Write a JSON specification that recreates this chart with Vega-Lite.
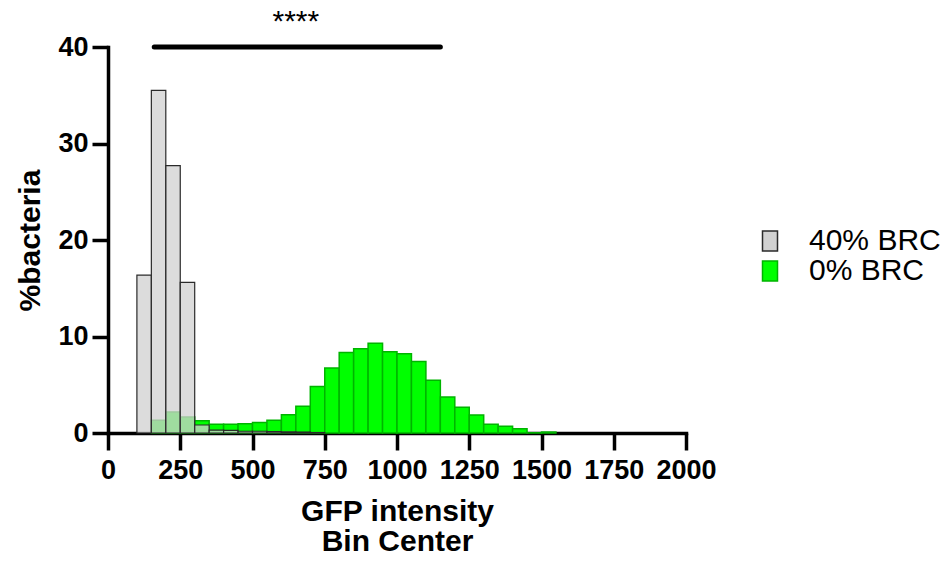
{
  "$schema": "https://vega.github.io/schema/vega-lite/v6.json",
  "width": 578,
  "height": 386,
  "autosize": {"type": "none"},
  "padding": {"left": 108, "top": 47, "right": 265, "bottom": 137},
  "config": {
    "font": "Liberation Sans",
    "view": {"stroke": null},
    "axis": {"grid": false, "domainColor": "black", "tickColor": "black", "labelColor": "black", "titleColor": "black", "domainWidth": 3.5, "tickWidth": 3.5, "labelFontWeight": "bold", "titleFontWeight": "bold", "labelFont": "Liberation Sans", "titleFont": "Liberation Sans", "domainCap": "square"}
  },
  "datasets": {
    "hist": [
      {"group": "0% BRC", "bin_start": 150, "bin_end": 200, "pct": 1.31},
      {"group": "0% BRC", "bin_start": 200, "bin_end": 250, "pct": 2.18},
      {"group": "0% BRC", "bin_start": 250, "bin_end": 300, "pct": 1.66},
      {"group": "0% BRC", "bin_start": 300, "bin_end": 350, "pct": 1.28},
      {"group": "0% BRC", "bin_start": 350, "bin_end": 400, "pct": 0.9},
      {"group": "0% BRC", "bin_start": 400, "bin_end": 450, "pct": 0.9},
      {"group": "0% BRC", "bin_start": 450, "bin_end": 500, "pct": 0.96},
      {"group": "0% BRC", "bin_start": 500, "bin_end": 550, "pct": 1.08},
      {"group": "0% BRC", "bin_start": 550, "bin_end": 600, "pct": 1.33},
      {"group": "0% BRC", "bin_start": 600, "bin_end": 650, "pct": 1.9},
      {"group": "0% BRC", "bin_start": 650, "bin_end": 700, "pct": 2.76},
      {"group": "0% BRC", "bin_start": 700, "bin_end": 750, "pct": 4.83},
      {"group": "0% BRC", "bin_start": 750, "bin_end": 800, "pct": 6.74},
      {"group": "0% BRC", "bin_start": 800, "bin_end": 850, "pct": 8.33},
      {"group": "0% BRC", "bin_start": 850, "bin_end": 900, "pct": 8.74},
      {"group": "0% BRC", "bin_start": 900, "bin_end": 950, "pct": 9.3},
      {"group": "0% BRC", "bin_start": 950, "bin_end": 1000, "pct": 8.43},
      {"group": "0% BRC", "bin_start": 1000, "bin_end": 1050, "pct": 8.2},
      {"group": "0% BRC", "bin_start": 1050, "bin_end": 1100, "pct": 7.4},
      {"group": "0% BRC", "bin_start": 1100, "bin_end": 1150, "pct": 5.46},
      {"group": "0% BRC", "bin_start": 1150, "bin_end": 1200, "pct": 3.73},
      {"group": "0% BRC", "bin_start": 1200, "bin_end": 1250, "pct": 2.66},
      {"group": "0% BRC", "bin_start": 1250, "bin_end": 1300, "pct": 1.87},
      {"group": "0% BRC", "bin_start": 1300, "bin_end": 1350, "pct": 0.9},
      {"group": "0% BRC", "bin_start": 1350, "bin_end": 1400, "pct": 0.69},
      {"group": "0% BRC", "bin_start": 1400, "bin_end": 1450, "pct": 0.45},
      {"group": "0% BRC", "bin_start": 1450, "bin_end": 1500, "pct": 0.02},
      {"group": "0% BRC", "bin_start": 1500, "bin_end": 1550, "pct": 0.1},
      {"group": "40% BRC", "bin_start": 100, "bin_end": 150, "pct": 16.35},
      {"group": "40% BRC", "bin_start": 150, "bin_end": 200, "pct": 35.5},
      {"group": "40% BRC", "bin_start": 200, "bin_end": 250, "pct": 27.7},
      {"group": "40% BRC", "bin_start": 250, "bin_end": 300, "pct": 15.6},
      {"group": "40% BRC", "bin_start": 300, "bin_end": 350, "pct": 0.83},
      {"group": "40% BRC", "bin_start": 350, "bin_end": 400, "pct": 0.3},
      {"group": "40% BRC", "bin_start": 400, "bin_end": 450, "pct": 0.28},
      {"group": "40% BRC", "bin_start": 450, "bin_end": 500, "pct": 0.18},
      {"group": "40% BRC", "bin_start": 500, "bin_end": 550, "pct": 0.18},
      {"group": "40% BRC", "bin_start": 550, "bin_end": 600, "pct": 0.14},
      {"group": "40% BRC", "bin_start": 600, "bin_end": 650, "pct": 0.12},
      {"group": "40% BRC", "bin_start": 650, "bin_end": 700, "pct": 0.1},
      {"group": "40% BRC", "bin_start": 700, "bin_end": 750, "pct": 0.05}
    ],
    "sig": [
      {"start": 160, "end": 1150, "mid": 650, "level": 40, "label": "****"}
    ]
  },
  "layer": [
    {
      "data": {"name": "hist"},
      "transform": [{"filter": "datum.group === '0% BRC'"}],
      "mark": {"type": "bar", "strokeWidth": 1.5},
      "encoding": {
        "x": {"field": "bin_start", "type": "quantitative", "scale": {"domain": [0, 2000], "nice": false, "zero": false},
              "axis": {"values": [0, 250, 500, 750, 1000, 1250, 1500, 1750, 2000], "format": "d", "labelFontSize": 27, "tickSize": 17, "labelPadding": 7, "titleFontSize": 30, "titlePadding": 13, "titleLineHeight": 30, "labelFlush": false, "labelOverlap": false},
              "title": ["GFP intensity", "Bin Center"]},
        "x2": {"field": "bin_end"},
        "y": {"field": "pct", "type": "quantitative", "scale": {"domain": [0, 40], "nice": false},
              "axis": {"values": [0, 10, 20, 30, 40], "labelFontSize": 27, "tickSize": 16, "labelPadding": 4, "titleFontSize": 30, "titlePadding": 12},
              "title": "%bacteria"},
        "y2": {"datum": 0},
        "fill": {"field": "group", "type": "nominal", "scale": {"domain": ["40% BRC", "0% BRC"], "range": ["#d1d1d1", "#00ff00"]},
                 "legend": {"title": null, "orient": "none", "legendX": 647, "legendY": 179, "symbolType": "M-0.75,-1L0.75,-1L0.75,1L-0.75,1Z", "symbolSize": 400, "symbolStrokeWidth": 1.5, "labelFontSize": 30, "labelFont": "Liberation Sans", "labelColor": "black", "labelOffset": 24, "rowPadding": 0, "padding": 0}},
        "stroke": {"field": "group", "type": "nominal", "scale": {"domain": ["40% BRC", "0% BRC"], "range": ["#2a2a2a", "#00b400"]},
                   "legend": {"title": null, "orient": "none", "legendX": 647, "legendY": 179, "symbolType": "M-0.75,-1L0.75,-1L0.75,1L-0.75,1Z", "symbolSize": 400, "symbolStrokeWidth": 1.5, "labelFontSize": 30, "labelFont": "Liberation Sans", "labelColor": "black", "labelOffset": 24, "rowPadding": 0, "padding": 0}}
      }
    },
    {
      "data": {"name": "hist"},
      "transform": [{"filter": "datum.group === '40% BRC'"}],
      "mark": {"type": "bar", "strokeWidth": 1.2, "fillOpacity": 0.76},
      "encoding": {
        "x": {"field": "bin_start", "type": "quantitative", "title": ["GFP intensity", "Bin Center"]},
        "x2": {"field": "bin_end"},
        "y": {"field": "pct", "type": "quantitative", "title": "%bacteria"},
        "y2": {"datum": 0},
        "fill": {"field": "group", "type": "nominal"},
        "stroke": {"field": "group", "type": "nominal"}
      }
    },
    {
      "data": {"name": "sig"},
      "mark": {"type": "rule", "strokeWidth": 5, "strokeCap": "round", "color": "black"},
      "encoding": {
        "x": {"field": "start", "type": "quantitative", "title": ["GFP intensity", "Bin Center"]},
        "x2": {"field": "end"},
        "y": {"field": "level", "type": "quantitative", "title": "%bacteria"}
      }
    },
    {
      "data": {"name": "sig"},
      "mark": {"type": "text", "fontSize": 30, "baseline": "alphabetic", "align": "center", "dy": -16, "color": "black", "font": "Liberation Sans"},
      "encoding": {
        "x": {"field": "mid", "type": "quantitative", "title": ["GFP intensity", "Bin Center"]},
        "y": {"field": "level", "type": "quantitative", "title": "%bacteria"},
        "text": {"field": "label"}
      }
    }
  ]
}
